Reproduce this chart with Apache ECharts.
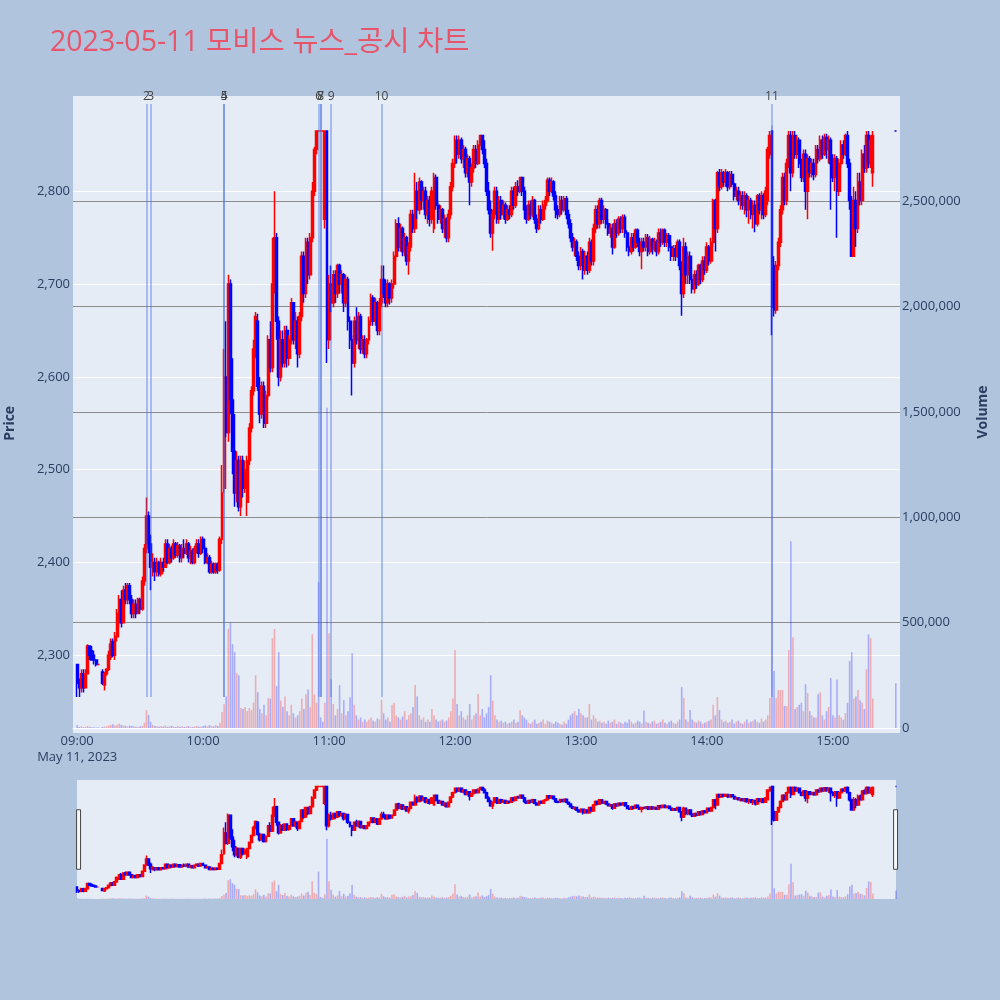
<!DOCTYPE html>
<html><head><meta charset="utf-8">
<script src="https://cdn.jsdelivr.net/npm/echarts@6/dist/echarts.min.js"></script>
<style>html,body{margin:0;padding:0;background:#b0c4de;}#c{width:1000px;height:1000px;}</style>
</head><body><div id="c"></div>
<script>
// ---- data: one entry per minute from 09:00 (index 0) to 15:30 (index 390) ----
const opens = [
2290,2270,2265,2280,2265,2280,2310,2305,2300,2295,
2290,null,2282,2268,2280,2285,2298,2315,2300,2320,
2335,2360,2335,2370,2360,2375,2360,2345,2355,2345,
2360,2350,2380,2415,2450,2420,2395,2400,2390,2400,
2388,2400,2395,2420,2400,2415,2405,2420,2408,2418,
2405,2415,2410,2420,2405,2412,2400,2415,2420,2410,
2425,2415,2400,2405,2390,2398,2390,2398,2392,2425,
2480,2600,2540,2700,2575,2520,2475,2510,2460,2510,
2480,2465,2510,2545,2585,2630,2660,2590,2560,2590,
2550,2580,2640,2610,2700,2750,2660,2600,2640,2615,
2650,2620,2640,2680,2640,2660,2625,2665,2730,2690,
2745,2710,2750,2800,2845,2865,2865,2865,2770,2865,
2640,2700,2680,2710,2690,2720,2700,2710,2680,2705,
2660,2640,2615,2660,2640,2665,2630,2640,2625,2640,
2660,2685,2660,2680,2650,2680,2705,2700,2680,2700,
2685,2700,2730,2765,2740,2760,2735,2750,2725,2740,
2775,2760,2800,2780,2810,2790,2800,2775,2790,2770,
2760,2815,2785,2770,2780,2760,2770,2750,2775,2805,
2830,2855,2840,2855,2835,2845,2820,2835,2810,2825,
2845,2830,2850,2860,2845,2830,2800,2780,2755,2775,
2800,2770,2790,2775,2785,2770,2780,2775,2800,2785,
2805,2800,2815,2800,2780,2770,2785,2775,2790,2770,
2760,2780,2770,2785,2790,2812,2800,2810,2795,2780,
2775,2790,2780,2792,2775,2765,2750,2740,2745,2730,
2720,2735,2715,2730,2715,2745,2725,2760,2780,2765,
2790,2770,2780,2765,2755,2760,2740,2765,2755,2770,
2760,2772,2755,2740,2735,2750,2740,2758,2745,2735,
2745,2740,2750,2735,2748,2738,2745,2735,2755,2745,
2758,2745,2752,2740,2730,2738,2730,2745,2720,2690,
2740,2710,2730,2705,2695,2710,2700,2720,2705,2725,
2715,2740,2725,2745,2790,2760,2820,2805,2820,2810,
2820,2805,2818,2808,2795,2800,2790,2795,2785,2795,
2780,2790,2775,2785,2765,2795,2780,2795,2775,2790,
2840,2865,2720,2672,2720,2745,2780,2815,2790,2830,
2860,2820,2860,2840,2855,2830,2815,2840,2800,2835,
2820,2830,2818,2845,2835,2855,2840,2858,2845,2855,
2830,2815,2835,2800,2830,2850,2840,2860,2830,2790,
2730,2790,2760,2810,2790,2840,2825,2860,2830,2820,
null,null,null,null,null,null,null,null,null,null,
2865];
const closes = [
2270,2265,2280,2265,2280,2310,2300,2295,2295,2290,
2290,null,2270,2280,2285,2300,2312,2300,2320,2345,
2360,2335,2370,2360,2375,2360,2345,2355,2345,2360,
2350,2380,2415,2450,2420,2395,2400,2390,2400,2388,
2400,2395,2420,2400,2415,2405,2420,2408,2418,2405,
2415,2410,2420,2405,2412,2400,2415,2420,2410,2425,
2415,2400,2405,2390,2398,2390,2398,2392,2425,2475,
2600,2540,2700,2575,2520,2475,2510,2460,2510,2480,
2500,2510,2545,2585,2630,2665,2590,2560,2590,2550,
2580,2640,2610,2700,2750,2660,2600,2640,2615,2650,
2620,2640,2680,2640,2660,2625,2665,2730,2690,2745,
2710,2750,2800,2845,2865,2865,2865,2865,2865,2640,
2700,2680,2710,2690,2720,2700,2710,2680,2705,2660,
2640,2615,2660,2640,2665,2630,2640,2625,2640,2660,
2685,2660,2680,2650,2680,2705,2690,2680,2700,2685,
2700,2730,2765,2740,2760,2735,2750,2725,2740,2775,
2760,2800,2780,2810,2790,2800,2775,2790,2770,2800,
2815,2785,2770,2780,2760,2770,2750,2775,2805,2830,
2855,2840,2855,2835,2845,2820,2835,2810,2825,2845,
2830,2850,2860,2845,2830,2800,2780,2755,2775,2800,
2770,2790,2775,2785,2770,2780,2775,2800,2785,2805,
2800,2815,2800,2780,2770,2785,2775,2790,2770,2760,
2780,2770,2785,2790,2812,2800,2810,2795,2780,2775,
2790,2780,2792,2775,2765,2750,2740,2745,2730,2720,
2735,2715,2730,2715,2745,2725,2760,2780,2765,2790,
2770,2780,2765,2755,2760,2740,2765,2755,2770,2760,
2772,2755,2740,2735,2750,2740,2758,2745,2735,2745,
2740,2750,2735,2748,2738,2745,2735,2755,2745,2758,
2745,2752,2740,2730,2738,2730,2745,2720,2690,2740,
2710,2730,2705,2695,2710,2700,2720,2705,2725,2715,
2740,2725,2745,2790,2760,2820,2805,2820,2810,2820,
2805,2818,2808,2795,2800,2790,2795,2785,2795,2780,
2790,2775,2785,2765,2795,2780,2795,2775,2800,2845,
2860,2675,2672,2720,2745,2780,2815,2790,2830,2860,
2820,2860,2840,2855,2830,2815,2840,2800,2835,2820,
2830,2818,2845,2835,2855,2840,2858,2845,2855,2830,
2815,2835,2800,2830,2850,2840,2860,2830,2790,2730,
2790,2760,2810,2790,2840,2825,2860,2830,2855,2860,
null,null,null,null,null,null,null,null,null,null,
2865];
const lows = [
2255,2255,2260,2260,2265,2280,2295,2295,2290,2288,
2290,null,2268,2262,2278,2283,2295,2298,2295,2315,
2330,2330,2335,2355,2355,2355,2340,2340,2340,2345,
2345,2348,2375,2410,2410,2370,2385,2380,2385,2385,
2385,2390,2395,2398,2398,2400,2403,2405,2405,2400,
2400,2405,2408,2400,2398,2398,2398,2410,2405,2408,
2410,2398,2398,2388,2388,2388,2388,2388,2390,2420,
2475,2535,2530,2560,2495,2460,2465,2455,2450,2470,
2475,2450,2505,2540,2580,2620,2585,2550,2555,2545,
2545,2575,2605,2605,2690,2640,2590,2595,2610,2610,
2610,2612,2635,2635,2630,2610,2620,2660,2680,2685,
2700,2705,2745,2795,2840,2865,2865,2865,2760,2615,
2630,2670,2675,2680,2685,2690,2690,2670,2675,2650,
2630,2580,2610,2635,2630,2625,2625,2620,2620,2635,
2655,2655,2655,2645,2645,2675,2685,2675,2675,2678,
2680,2695,2725,2735,2735,2730,2730,2720,2710,2735,
2755,2755,2770,2775,2780,2780,2770,2765,2762,2765,
2755,2780,2765,2765,2755,2750,2745,2745,2770,2800,
2825,2830,2835,2830,2825,2815,2815,2785,2805,2820,
2825,2828,2845,2840,2825,2795,2775,2750,2736,2770,
2765,2765,2770,2770,2765,2768,2770,2772,2780,2782,
2795,2798,2795,2770,2765,2768,2770,2772,2765,2755,
2758,2765,2768,2780,2788,2795,2798,2790,2771,2770,
2772,2775,2778,2770,2760,2745,2735,2730,2725,2715,
2715,2705,2710,2710,2712,2720,2720,2755,2760,2760,
2765,2765,2760,2752,2750,2732,2738,2750,2752,2755,
2755,2750,2735,2730,2732,2735,2738,2740,2730,2716,
2735,2735,2730,2732,2732,2735,2730,2732,2740,2742,
2740,2740,2735,2725,2725,2725,2728,2715,2666,2685,
2700,2700,2700,2690,2690,2695,2698,2700,2702,2710,
2712,2720,2722,2740,2735,2755,2800,2802,2805,2805,
2800,2802,2805,2790,2790,2785,2780,2780,2775,2772,
2765,2770,2760,2756,2762,2775,2770,2770,2772,2785,
2835,2645,2665,2668,2715,2740,2775,2785,2785,2825,
2800,2815,2835,2835,2825,2810,2810,2780,2770,2815,
2815,2812,2815,2830,2832,2835,2838,2835,2830,2780,
2810,2800,2750,2795,2825,2835,2838,2825,2780,2730,
2730,2740,2755,2785,2785,2820,2820,2825,2825,2805,
null,null,null,null,null,null,null,null,null,null,
2865];
const highs = [
2290,2275,2285,2285,2285,2312,2310,2310,2305,2295,
2290,null,2285,2282,2286,2305,2318,2318,2325,2350,
2365,2370,2375,2378,2378,2378,2365,2360,2360,2362,
2362,2385,2420,2470,2455,2430,2410,2405,2405,2402,
2405,2405,2425,2425,2420,2418,2425,2422,2422,2420,
2420,2425,2425,2422,2418,2415,2418,2425,2425,2428,
2428,2418,2410,2408,2402,2400,2400,2400,2428,2505,
2630,2660,2710,2705,2620,2560,2520,2515,2515,2515,
2510,2515,2550,2590,2640,2670,2668,2600,2595,2595,
2585,2645,2660,2750,2800,2755,2665,2650,2650,2655,
2655,2645,2685,2680,2670,2665,2670,2735,2735,2750,
2750,2755,2810,2848,2865,2865,2865,2865,2865,2865,
2710,2720,2715,2715,2722,2722,2715,2712,2710,2708,
2665,2645,2665,2675,2670,2668,2645,2645,2642,2665,
2690,2688,2685,2682,2685,2720,2720,2705,2705,2702,
2705,2735,2770,2772,2765,2762,2755,2752,2745,2780,
2780,2820,2810,2815,2812,2805,2805,2795,2795,2805,
2820,2818,2790,2785,2782,2775,2772,2780,2810,2835,
2860,2860,2860,2858,2850,2848,2840,2838,2830,2850,
2850,2855,2860,2860,2855,2835,2810,2790,2780,2805,
2805,2795,2795,2790,2788,2785,2785,2805,2805,2810,
2812,2815,2815,2805,2785,2790,2790,2795,2792,2775,
2785,2785,2790,2795,2815,2815,2815,2812,2800,2785,
2795,2795,2795,2795,2780,2770,2755,2750,2748,2735,
2740,2738,2735,2735,2750,2748,2765,2785,2785,2793,
2793,2785,2782,2770,2765,2765,2770,2770,2773,2773,
2775,2775,2758,2745,2755,2755,2760,2760,2750,2750,
2750,2754,2754,2752,2750,2750,2748,2760,2760,2760,
2760,2755,2755,2745,2742,2742,2748,2748,2725,2750,
2745,2735,2735,2710,2715,2715,2722,2722,2730,2730,
2745,2742,2750,2792,2792,2822,2824,2824,2822,2824,
2822,2822,2822,2810,2805,2805,2800,2800,2800,2798,
2795,2793,2790,2790,2797,2798,2800,2798,2805,2848,
2865,2865,2730,2725,2750,2785,2820,2820,2835,2865,
2865,2865,2865,2860,2858,2835,2845,2845,2840,2838,
2835,2835,2850,2850,2860,2860,2862,2862,2860,2858,
2840,2840,2838,2835,2855,2855,2862,2865,2835,2795,
2805,2800,2820,2820,2845,2850,2865,2865,2860,2865,
null,null,null,null,null,null,null,null,null,null,
2865];
const volumes = [
14000,5000,8000,4000,6000,9000,5000,4000,3000,2000,
3000,null,5000,6000,8000,12000,15000,18000,12000,15000,
20000,15000,12000,10000,8000,12000,10000,8000,6000,5000,
8000,10000,25000,85000,62000,30000,15000,10000,8000,6000,
9000,7000,12000,6000,8000,10000,7000,5000,9000,6000,
8000,5000,7000,9000,6000,5000,8000,10000,6000,7000,
9000,12000,8000,14000,10000,8000,15000,10000,25000,76000,
113000,150000,470000,500000,398000,360000,260000,250000,95000,90000,
100000,80000,95000,85000,120000,250000,170000,90000,70000,110000,
60000,142000,140000,426000,470000,200000,360000,130000,100000,150000,
80000,60000,110000,70000,50000,60000,80000,140000,90000,160000,
183000,100000,445000,160000,120000,692000,50000,30000,120000,1520000,
450000,232000,114000,60000,90000,204000,70000,133000,60000,80000,
146000,355000,110000,60000,40000,50000,30000,40000,30000,40000,
50000,35000,30000,45000,40000,133000,70000,40000,50000,30000,
110000,120000,60000,50000,40000,55000,80000,40000,60000,70000,
100000,204000,150000,60000,40000,50000,30000,40000,30000,90000,
60000,40000,30000,35000,40000,30000,35000,50000,80000,140000,
370000,114000,60000,80000,50000,40000,60000,114000,40000,60000,
70000,161000,60000,90000,50000,70000,100000,251000,130000,60000,
40000,30000,35000,25000,30000,20000,25000,30000,40000,25000,
30000,85000,60000,50000,40000,25000,20000,30000,40000,20000,
25000,30000,40000,20000,35000,30000,25000,20000,30000,25000,
20000,15000,30000,20000,40000,60000,70000,80000,60000,90000,
70000,60000,50000,50000,114000,40000,60000,45000,30000,35000,
25000,30000,20000,35000,25000,30000,40000,20000,30000,25000,
20000,30000,25000,40000,30000,20000,25000,35000,30000,20000,
83000,30000,25000,20000,30000,35000,20000,25000,30000,40000,
25000,20000,30000,35000,25000,20000,30000,40000,194000,142000,
40000,30000,85000,40000,30000,25000,35000,30000,20000,25000,
30000,35000,40000,110000,60000,147000,85000,40000,30000,35000,
25000,30000,40000,20000,30000,35000,25000,20000,30000,40000,
25000,30000,35000,40000,30000,25000,45000,30000,40000,60000,
142000,2860000,270000,142000,180000,180000,180000,105000,105000,370000,
886000,431000,90000,100000,110000,120000,80000,208000,166000,80000,
60000,50000,50000,160000,170000,60000,40000,80000,100000,237000,
60000,50000,230000,60000,50000,40000,70000,120000,318000,360000,
140000,150000,180000,130000,120000,90000,279000,445000,426000,140000,
null,null,null,null,null,null,null,null,null,null,
213000];

// news / disclosure markers
const newsLabels = ['2','3','4','5','6','7','8','9','10','11'];
const newsTimes  = ['09:33','09:35','10:10','10:10','10:55','10:56','10:56','11:01','11:25','14:31'];
const newsLineLow = 2255, newsLineHigh = 2894;

const priceTicks = [2300, 2400, 2500, 2600, 2700, 2800];
const volumeTicks = [0, 500000, 1000000, 1500000, 2000000, 2500000];

// ---- axis categories (minutes) ----
const hhmm = m => String(Math.floor(m / 60)).padStart(2, '0') + ':' + String(m % 60).padStart(2, '0');
const mainCats = []; for (let m = 538; m <= 932; m++) mainCats.push(hhmm(m));
const miniCats = []; for (let m = 540; m <= 930; m++) miniCats.push(hhmm(m));

const UP = '#ff0000', DOWN = '#0000ff';
const UPV = 'rgba(255,0,0,0.27)', DOWNV = 'rgba(0,0,255,0.27)';

const rows = opens.map((o, i) => o == null ? '-' : [o, closes[i], lows[i], highs[i]]);
const vols = volumes.map((v, i) => v == null ? '-' : { value: v, itemStyle: { color: closes[i] > opens[i] ? UPV : DOWNV } });
const mainRows = ['-', '-'].concat(rows, ['-', '-']);
const mainVols = ['-', '-'].concat(vols, ['-', '-']);

const FONT = '"Open Sans", "Noto Sans CJK KR", sans-serif';
const TXT = '#2a3f5f';
const G = { containLabel: false, outerBoundsMode: 'none' };

const chart = echarts.init(document.getElementById('c'), null, { renderer: 'canvas' });
chart.setOption({
  animation: false,
  backgroundColor: '#b0c4de',
  textStyle: { fontFamily: FONT },
  title: {
    text: '2023-05-11 모비스 뉴스_공시 차트', left: 45, top: 24,
    textStyle: { color: '#e8556b', fontSize: 28.5, fontWeight: 'normal', fontFamily: FONT }
  },
  grid: [
    Object.assign({ left: 73, right: 100, top: 98.5, bottom: 251.9 }, G),               // price
    Object.assign({ left: 73, right: 100, top: 96, bottom: 272 }, G),                   // volume
    Object.assign({ left: 77, right: 104, top: 780, bottom: 101, show: true, backgroundColor: '#e5ecf6', borderWidth: 0 }, G), // mini
    Object.assign({ left: 73, right: 100, top: 96, bottom: 267, show: true, backgroundColor: '#e5ecf6', borderWidth: 0, z: -5 }, G) // plot bg
  ],
  xAxis: [
    { type: 'category', gridIndex: 0, data: mainCats, boundaryGap: false, show: false },
    { type: 'category', gridIndex: 1, data: mainCats, boundaryGap: false,
      axisLine: { show: true, lineStyle: { color: '#ffffff', width: 1 } },
      axisTick: { show: false }, splitLine: { show: false },
      axisLabel: {
        interval: (i, v) => v.endsWith(':00'),
        formatter: v => v === '09:00' ? '09:00\nMay 11, 2023' : v,
        color: TXT, fontSize: 13, lineHeight: 16, margin: 5
      } },
    { type: 'category', gridIndex: 2, data: miniCats, boundaryGap: false, show: false },
    { type: 'value', gridIndex: 3, show: false }
  ],
  yAxis: [
    { type: 'value', gridIndex: 0, min: 2200, max: 2900, interval: 100, position: 'left',
      name: 'Price', nameLocation: 'middle', nameGap: 56,
      nameTextStyle: { color: TXT, fontSize: 14, fontWeight: 'bold' },
      axisLine: { show: false }, axisTick: { show: false },
      axisLabel: { color: TXT, fontSize: 13, margin: 3, showMinLabel: false, showMaxLabel: false,
        formatter: v => priceTicks.includes(v) ? v.toLocaleString('en-US') : '' },
      splitLine: { show: true, showMinLine: false, showMaxLine: false, lineStyle: { color: '#ffffff', width: 1 } } },
    { type: 'value', gridIndex: 1, min: 0, max: 3000000, interval: 500000, position: 'right',
      name: 'Volume', nameLocation: 'middle', nameGap: 76,
      nameTextStyle: { color: TXT, fontSize: 14, fontWeight: 'bold' },
      axisLine: { show: false }, axisTick: { show: false },
      axisLabel: { color: TXT, fontSize: 13, margin: 2, showMaxLabel: false,
        formatter: v => volumeTicks.includes(v) ? v.toLocaleString('en-US') : '' },
      splitLine: { show: true, showMinLine: false, showMaxLine: false, lineStyle: { color: '#8c8c8c', width: 1 } } },
    { type: 'value', gridIndex: 2, min: 2221.3, max: 2902.4, show: false, splitLine: { show: false } },
    { type: 'value', gridIndex: 2, min: 0, max: 3000000, show: false, splitLine: { show: false } },
    { type: 'value', gridIndex: 3, show: false, splitLine: { show: false } }
  ],
  dataZoom: [{
    type: 'slider', xAxisIndex: [0, 1], start: 0, end: 100,
    left: 77, right: 104, top: 780, height: 119,
    showDataShadow: false, showDetail: false, brushSelect: false,
    backgroundColor: 'rgba(0,0,0,0)', fillerColor: 'rgba(0,0,0,0)', borderColor: 'rgba(0,0,0,0)',
    handleIcon: 'path://M0,0 L4,0 L4,60 L0,60 Z', handleSize: '50%',
    handleStyle: { color: '#f8f8f8', borderColor: '#444444', borderWidth: 1 },
    moveHandleSize: 0, moveHandleStyle: { opacity: 0 },
    emphasis: { handleStyle: { color: '#f8f8f8', borderColor: '#444444' }, moveHandleStyle: { opacity: 0 } }
  }],
  series: [
    { type: 'bar', name: 'Volume', xAxisIndex: 1, yAxisIndex: 1, data: mainVols, barWidth: 1.6, z: 1, silent: true },
    { type: 'candlestick', name: 'Price', xAxisIndex: 0, yAxisIndex: 0, data: mainRows, barWidth: 2.4, z: 3,
      itemStyle: { color: UP, color0: DOWN, borderColor: UP, borderColor0: DOWN, borderWidth: 1.5 },
      markLine: {
        silent: true, symbol: ['none', 'none'], animation: false,
        lineStyle: { color: 'rgba(65,105,225,0.5)', width: 1.5, type: 'solid' },
        label: { show: true, position: 'end', formatter: '{b}', color: '#444444', fontSize: 12, lineHeight: 12, distance: 1, fontFamily: FONT },
        emphasis: { disabled: true },
        data: newsTimes.map((t, i) => [
          { xAxis: t, yAxis: newsLineLow, name: newsLabels[i] },
          { xAxis: t, yAxis: newsLineHigh }
        ])
      } },
    { type: 'bar', xAxisIndex: 2, yAxisIndex: 3, data: vols, barWidth: 1.6, z: 1, silent: true },
    { type: 'candlestick', xAxisIndex: 2, yAxisIndex: 2, data: rows, barWidth: 2.4, z: 3, silent: true,
      itemStyle: { color: UP, color0: DOWN, borderColor: UP, borderColor0: DOWN, borderWidth: 1.5 } }
  ]
});
</script></body></html>
